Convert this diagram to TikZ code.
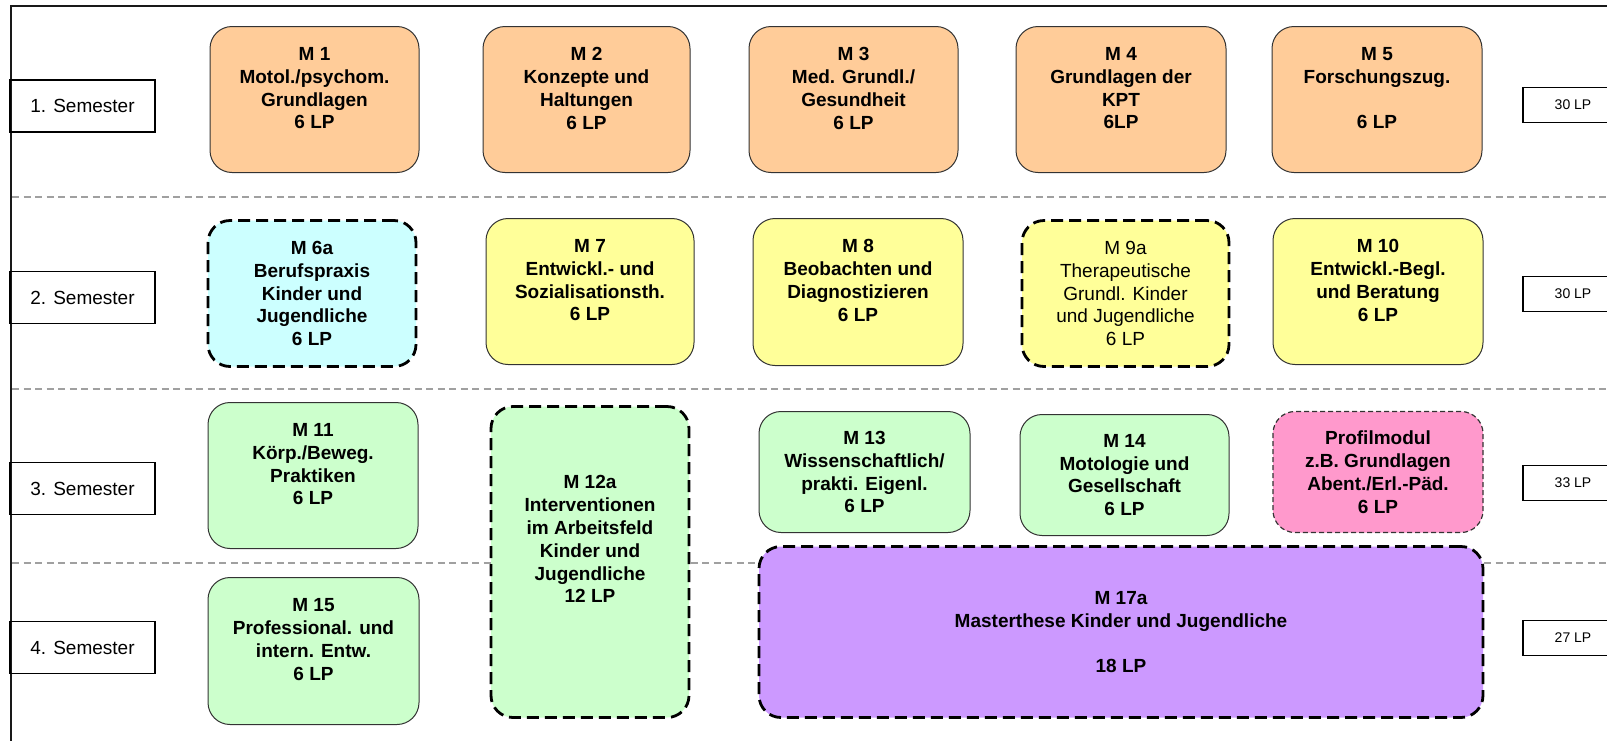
\documentclass[tikz,border=0pt]{standalone}
\usepackage{fontspec}
\setmainfont{Liberation Sans}
\definecolor{corange}{HTML}{FFCC99}
\definecolor{cyellow}{HTML}{FFFF99}
\definecolor{ccyan}{HTML}{CCFFFF}
\definecolor{cgreen}{HTML}{CCFFCC}
\definecolor{cpink}{HTML}{FF99CC}
\definecolor{cpurple}{HTML}{CC99FF}
\definecolor{cborder}{HTML}{333333}
\definecolor{csep}{HTML}{A0A0A0}
\tikzset{
  mod/.style={rounded corners=22pt, draw=cborder, line width=1pt, align=center, inner sep=0pt,
    font=\fontsize{19}{22.9}\selectfont\bfseries},
  plainmod/.style={font=\fontsize{19}{22.9}\selectfont},
  thickdash/.style={draw=black, line width=2.8pt, dash pattern=on 12pt off 6pt},
  thindash/.style={draw=cborder, line width=1.2pt, dash pattern=on 5pt off 3pt},
  sem/.style={draw=black, line width=1.6pt, minimum width=145pt, minimum height=52pt, inner sep=0pt,
    font=\fontsize{19}{22}\selectfont},
  lpbox/.style={draw=black, line width=1.6pt, minimum width=100pt, minimum height=35pt, inner sep=0pt,
    font=\fontsize{14}{16}\selectfont},
  sepline/.style={draw=csep, line width=1.6pt, dash pattern=on 7pt off 4.5pt},
  frameline/.style={draw=black!90, line width=2pt}
}
\begin{document}
\begin{tikzpicture}[x=1pt,y=-1pt]
\useasboundingbox (0,0) rectangle (1607,740);
% frame
\coordinate (ftl) at (10.5,6);
\coordinate (ftr) at (1620,6);
\coordinate (fbl) at (10.5,750);
\draw[frameline] (ftr) -- (ftl) -- (fbl);
% separators
\coordinate (a1) at (12,197); \coordinate (b1) at (1620,197);
\coordinate (a2) at (12,389); \coordinate (b2) at (1620,389);
\coordinate (a3) at (12,563); \coordinate (b3) at (1620,563);
\draw[sepline] (a1) -- (b1);
\draw[sepline] (a2) -- (b2);
\draw[sepline] (a3) -- (b3);
% semester labels
\node[sem] (s1) at (82.5,106) {1. Semester};
\node[sem] (s2) at (82.5,297.5) {2. Semester};
\node[sem] (s3) at (82.5,488.5) {3. Semester};
\node[sem] (s4) at (82.5,647.5) {4. Semester};
% LP labels
\node[lpbox] (lp1) at (1573,105) {30 LP};
\node[lpbox] (lp2) at (1573,294) {30 LP};
\node[lpbox] (lp3) at (1573,483) {33 LP};
\node[lpbox] (lp4) at (1573,638) {27 LP};
% row 1
\node[mod, fill=corange, minimum width=209pt, minimum height=146pt] (m1) at (314.5,99.5) {M 1\\Motol./psychom.\\Grundlagen\\6 LP\\~};
\node[mod, fill=corange, minimum width=207pt, minimum height=146pt] (m2) at (586.5,99.5) {M 2\\Konzepte und\\Haltungen\\6 LP\\~};
\node[mod, fill=corange, minimum width=209pt, minimum height=146pt] (m3) at (853.5,99.5) {M 3\\Med. Grundl./\\Gesundheit\\6 LP\\~};
\node[mod, fill=corange, minimum width=210pt, minimum height=146pt] (m4) at (1121,99.5) {M 4\\Grundlagen der\\KPT\\6LP\\~};
\node[mod, fill=corange, minimum width=210pt, minimum height=146pt] (m5) at (1377,99.5) {M 5\\Forschungszug.\\~\\6 LP\\~};
% row 2
\node[mod, thickdash, fill=ccyan, minimum width=208pt, minimum height=146pt] (m6) at (312,293.5) {M 6a\\Berufspraxis\\Kinder und\\Jugendliche\\6 LP};
\node[mod, fill=cyellow, minimum width=208pt, minimum height=146pt] (m7) at (590,291.5) {M 7\\Entwickl.- und\\Sozialisationsth.\\6 LP\\~};
\node[mod, fill=cyellow, minimum width=210pt, minimum height=147pt] (m8) at (858,292) {M 8\\Beobachten und\\Diagnostizieren\\6 LP\\~};
\node[mod, thickdash, plainmod, fill=cyellow, minimum width=207pt, minimum height=146pt] (m9) at (1125.5,293.5) {M 9a\\Therapeutische\\Grundl. Kinder\\und Jugendliche\\6 LP};
\node[mod, fill=cyellow, minimum width=210pt, minimum height=146pt] (m10) at (1378,291.5) {M 10\\Entwickl.-Begl.\\und Beratung\\6 LP\\~};
% row 3
\node[mod, fill=cgreen, minimum width=210pt, minimum height=146pt] (m11) at (313,475.5) {M 11\\Körp./Beweg.\\Praktiken\\6 LP\\~};
\node[mod, thickdash, fill=cgreen, minimum width=198pt, minimum height=311pt] (m12) at (590,562) {M 12a\\Interventionen\\im Arbeitsfeld\\Kinder und\\Jugendliche\\12 LP\\~\\~};
\node[mod, fill=cgreen, minimum width=211pt, minimum height=121pt] (m13) at (864.5,472) {M 13\\Wissenschaftlich/\\prakti. Eigenl.\\6 LP};
\node[mod, fill=cgreen, minimum width=209pt, minimum height=121pt] (m14) at (1124.5,475) {M 14\\Motologie und\\Gesellschaft\\6 LP};
\node[mod, thindash, fill=cpink, minimum width=210pt, minimum height=121pt] (pm) at (1378,472) {Profilmodul\\z.B. Grundlagen\\Abent./Erl.-Päd.\\6 LP};
% row 4
\node[mod, fill=cgreen, minimum width=211pt, minimum height=147pt] (m15) at (313.5,651) {M 15\\Professional. und\\intern. Entw.\\6 LP\\~};
\node[mod, thickdash, fill=cpurple, minimum width=724pt, minimum height=171pt] (m17) at (1121,632) {M 17a\\Masterthese Kinder und Jugendliche\\~\\18 LP};
\end{tikzpicture}
\end{document}
